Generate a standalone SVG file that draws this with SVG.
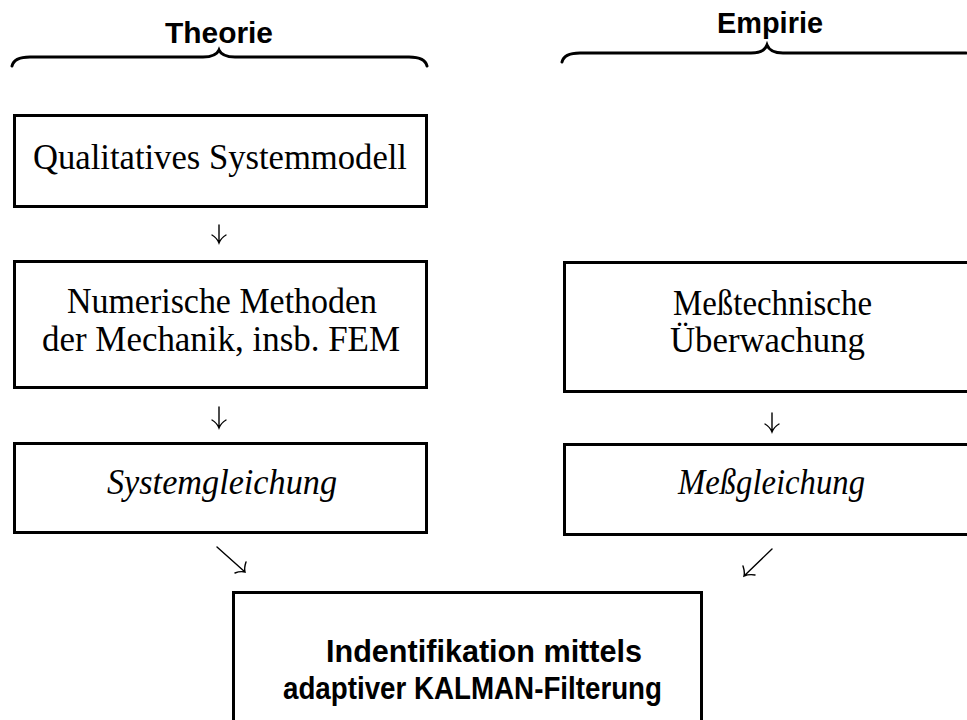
<svg xmlns="http://www.w3.org/2000/svg" width="967" height="720" viewBox="0 0 967 720">
<style>
.box{fill:#fff;stroke:#000;stroke-width:3}
.serif{font-family:"Liberation Serif","DejaVu Serif",serif;font-size:35px;fill:#000}
.it{font-style:italic}
.sansb{font-family:"Liberation Sans","DejaVu Sans",sans-serif;font-weight:bold;fill:#000}
.brace{fill:none;stroke:#000;stroke-width:3;stroke-linecap:round}
.arr{fill:none;stroke:#000;stroke-width:1.4;stroke-linecap:round}
</style>
<rect width="967" height="720" fill="#fff"/>
<g id="theorie">
<text class="sansb" x="219" y="43" font-size="30" text-anchor="middle" textLength="108" lengthAdjust="spacingAndGlyphs">Theorie</text>
<path class="brace" d="M12,66 Q14,57 30,57 L203,57 Q216,57 219,50 Q222,57 235,57 L409,57 Q425,57 427,66"/>
</g>
<g id="empirie">
<text class="sansb" x="770" y="33" font-size="30" text-anchor="middle" textLength="106" lengthAdjust="spacingAndGlyphs">Empirie</text>
<path class="brace" d="M562,62 Q564,53 580,53 L751,53 Q764,53 767,45 Q770,53 783,53 L966,53"/>
</g>
<g id="qualitativ">
<rect class="box" x="14.5" y="115.5" width="412" height="91"/>
<text class="serif" x="33" y="169" textLength="374" lengthAdjust="spacingAndGlyphs">Qualitatives Systemmodell</text>
</g>
<g id="numerisch">
<rect class="box" x="14.5" y="261.5" width="412" height="126"/>
<text class="serif" x="67" y="313" textLength="310" lengthAdjust="spacingAndGlyphs">Numerische Methoden</text>
<text class="serif" x="42" y="351" textLength="358" lengthAdjust="spacingAndGlyphs">der Mechanik, insb. FEM</text>
</g>
<g id="systemgleichung">
<rect class="box" x="14.5" y="443.5" width="412" height="89"/>
<text class="serif it" x="107" y="494" textLength="230" lengthAdjust="spacingAndGlyphs">Systemgleichung</text>
</g>
<g id="messtechnisch">
<rect class="box" x="564.5" y="262.5" width="420" height="129"/>
<text class="serif" x="673" y="315" textLength="199" lengthAdjust="spacingAndGlyphs">Meßtechnische</text>
<text class="serif" x="670" y="352" textLength="195" lengthAdjust="spacingAndGlyphs">Überwachung</text>
</g>
<g id="messgleichung">
<rect class="box" x="564.5" y="444.5" width="420" height="90"/>
<text class="serif it" x="678" y="494" textLength="187" lengthAdjust="spacingAndGlyphs">Meßgleichung</text>
</g>
<g id="identifikation">
<rect class="box" x="233.5" y="592.5" width="468" height="140"/>
<text class="sansb" x="326" y="662" font-size="31" textLength="316" lengthAdjust="spacingAndGlyphs">Indentifikation mittels</text>
<text class="sansb" x="283" y="699" font-size="31" textLength="379" lengthAdjust="spacingAndGlyphs">adaptiver KALMAN-Filterung</text>
</g>
<g id="connectors">
<path class="arr" d="M219,225 L219,243 M212,235 Q217,238 219,243 Q221,238 226,235"/>
<path class="arr" d="M219,407 L219,428 M212,420 Q217,423 219,428 Q221,423 226,420"/>
<path class="arr" d="M772,413 L772,432 M765,424 Q770,427 772,432 Q774,427 779,424"/>
<path class="arr" d="M217,547 L245,572 M246,562 Q244,568 245,572 Q240,571 235,573"/>
<path class="arr" d="M772,549 L744,576 M743,566 Q745,572 744,576 Q749,574 755,575"/>
</g>
</svg>
